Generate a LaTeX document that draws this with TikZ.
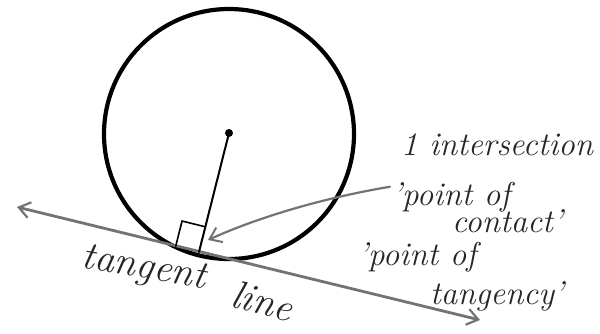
\documentclass[tikz,border=0pt]{standalone}
\usetikzlibrary{arrows.meta,calc}
\begin{document}
\begin{tikzpicture}[x=1pt,y=-1pt,
  hand/.style={font=\fontsize{33}{35}\selectfont\itshape, text=black!85, inner sep=0pt, anchor=base west},
  bighand/.style={hand, font=\fontsize{40}{42}\selectfont\itshape},
  pencil/.style={draw=black!55, line width=2.8pt, line cap=round, line join=round},
  ink/.style={draw=black, line cap=round}]
\useasboundingbox (0,0) rectangle (600,333);
% circle and centre
\node[circle, ink, line width=4.2pt, minimum size=250pt, inner sep=0pt] (circ) at (229,134) {};
\node[circle, fill=black, minimum size=8pt, inner sep=0pt] (ctr) at (229,133) {};
% tangent line
\coordinate (T) at (199,252);
\coordinate (L) at (17,207);
\coordinate (R) at (480,320);
\draw[pencil, {Straight Barb[length=11pt,width=16pt,line width=2.2pt]}-{Straight Barb[length=11pt,width=16pt,line width=2.2pt]}] (L) -- (R);
% radius
\draw[ink, line width=2pt] (ctr.center) -- (T);
% right-angle mark
\coordinate (A) at ($(T)!24pt!(L)$);
\coordinate (B) at ($(T)!26pt!(ctr.center)$);
\coordinate (C) at ($(A)+(B)-(T)$);
\draw[ink, line width=1.6pt] (A) -- (C) -- (B);
% labels
\node[hand] (inter) at (401,155) {1 intersection};
\node[hand] (pc1) at (392,205) {'point of};
\node[hand] (pc2) at (452,232) {contact'};
\node[hand] (pt1) at (358,265) {'point of};
\node[hand] (pt2) at (430,304) {tangency'};
\node[bighand, rotate=-10] (tl1) at (80,267) {tangent};
\node[bighand, rotate=-15] (tl2) at (229,306) {line};
% arrow to point of contact
\coordinate (P) at (208,240);
\draw[pencil, line width=2.2pt, -{Straight Barb[length=11pt,width=16pt,line width=2pt]}] ($(pc1.west)+(-2,-10)$) .. controls (340,195) and (270,212) .. (P);
\end{tikzpicture}
\end{document}
